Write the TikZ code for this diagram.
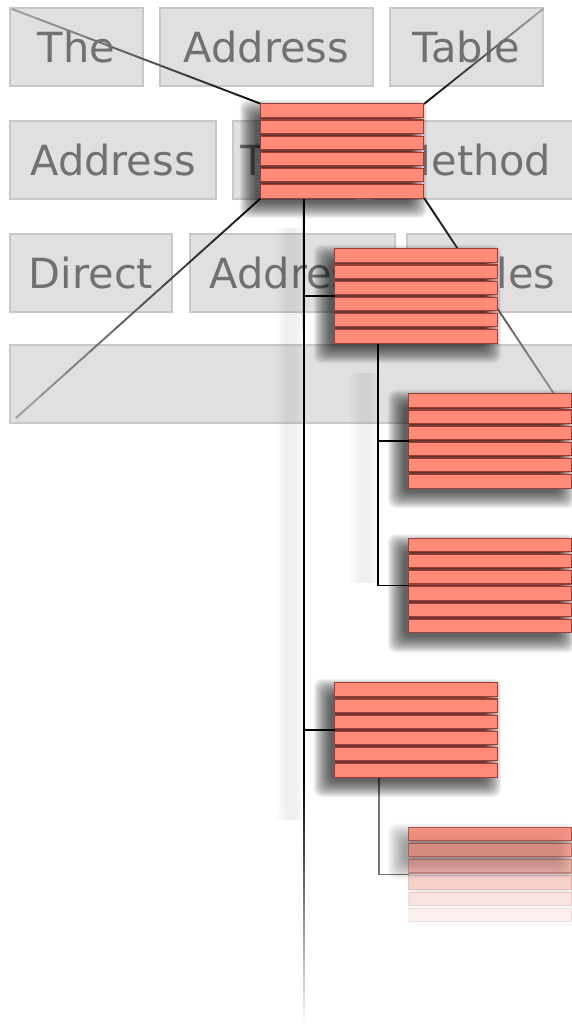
\documentclass[tikz,border=0pt]{standalone}
\usepackage{fontspec}
\setmainfont{DejaVu Sans}
\usetikzlibrary{calc}

\definecolor{salmon}{HTML}{FF8A78}
\definecolor{rim}{HTML}{983E36}
\definecolor{gap}{HTML}{6E3430}
\definecolor{panel}{HTML}{E0E0E0}
\definecolor{panelrim}{HTML}{C8C8C8}
\definecolor{paneltext}{HTML}{717171}

\tikzset{
  word/.style={draw=panelrim, line width=2pt, fill=panel, text=paneltext,
    inner sep=0pt, minimum height=78pt, text height=31pt, text depth=0pt,
    font=\fontsize{41.5}{48}\selectfont},
  redbox/.style={minimum width=163pt, minimum height=94pt, inner sep=0pt},
  stripe/.style={fill=salmon, draw=rim, line width=1.1pt},
  link/.style={line width=1.7pt, black},
}

\begin{document}
\begin{tikzpicture}[x=1pt, y=-1pt]
\useasboundingbox (0,0) rectangle (572,1028);
\clip (0,0) rectangle (572,1028);
\fill[white] (0,0) rectangle (572,1028);

% title panel
\node[word, minimum width=133pt] (the) at (76.5,47) {The};
\node[word, minimum width=213pt] (addressA) at (266.5,47) {Address};
\node[word, minimum width=153pt] (tableA) at (466.5,47) {Table};
\node[word, minimum width=206pt] (addressB) at (113,160) {Address};
\node[word, minimum width=122pt] (tableB) at (294,160) {Table};
\node[word, minimum width=203pt] (method) at (473.5,160) {Method};
\node[word, minimum width=162pt] (direct) at (91,272.5) {Direct};
\node[word, minimum width=205pt] (addressC) at (292.5,272.5) {Address};
\node[word, minimum width=168pt] (tables) at (491,272.5) {Tables};
\node[word, minimum width=565pt] (blank) at (292.5,384) {};

% table places
\node[redbox] (top) at (342.5,151) {};
\node[redbox] (mid) at (416.5,296) {};
\node[redbox] (leafa) at (490.5,441) {};
\node[redbox] (leafb) at (490.5,585.5) {};
\node[redbox] (low) at (416.5,730) {};
\node[redbox] (leafc) at (490.5,874.5) {};

% zoom lines
\coordinate (cTL) at (12,9);
\coordinate (cTR) at (543,9);
\coordinate (cBL) at (16,418);
\coordinate (cBR) at (570,418);
\foreach \s/\e in {top.north west/cTL, top.north east/cTR, top.south west/cBL, top.south east/cBR}{
  \foreach \i in {0,...,9}{
    \pgfmathtruncatemacro\lev{92-\i*6}
    \draw[line width=1.9pt, line cap=round, draw=black!\lev]
      ($(\s)!\i/10!(\e)$) -- ($(\s)!\i/10+0.1!(\e)$);
  }
}

% tree
\coordinate (trunk) at ($(top.south west)+(43,0)$);
\coordinate (fadeA) at (304,780);
\coordinate (fadeB) at (304,1027);
\coordinate (branch) at ($(mid.south west)+(43,0)$);
\coordinate (twig) at ($(low.south west)+(44,0)$);

\foreach \w in {28,20,12}{
  \draw[line width=\w pt, black, opacity=0.018] ($(trunk)+(-13,30)$) -- ($(fadeA)+(-13,40)$);
  \draw[line width=\w pt, black, opacity=0.018] ($(branch)+(-13,30)$) -- ($(branch)+(-13,240)$);
}

\draw[link] (trunk) |- (mid.west);
\draw[link] (trunk) |- (low.west);
\draw[link] (trunk) -- (fadeA);
\shade[top color=black, bottom color=white] ($(fadeA)+(-0.85,0)$) rectangle ($(fadeB)+(0.85,0)$);
\draw[link] (branch) |- (leafa.west);
\draw[link] (branch) |- (leafb.west);
\draw[link, black!55] (twig) |- (leafc.west);

% shadows
\foreach \b in {top,mid,leafa,leafb,low}
  \foreach \e in {12,...,-4}
    \fill[black, opacity=0.05, rounded corners=8pt]
      ($(\b.north west)+(-9-\e,8-\e)$) rectangle ($(\b.south east)+(-9+\e,8+\e)$);
\foreach \e in {12,...,-4}
  \fill[black, opacity=0.022, rounded corners=8pt]
    ($(leafc.north west)+(-9-\e,8-\e)$) rectangle ($(leafc.north east)+(-9+\e,40+\e)$);

% tables
\foreach \b in {top,mid,leafa,leafb,low}{
  \fill[gap] (\b.north west) rectangle ($(\b.south east)+(-14,0)$);
  \shade[left color=gap, right color=gap!25!white] ($(\b.north east)+(-14,0)$) rectangle (\b.south east);
  \foreach \k in {0,...,5}
    \draw[stripe] ($(\b.north west)+(0,\k*16.2)$) rectangle ++(163,13.3);
}
\foreach \k/\o in {0/0.78,1/0.6,2/0.42,3/0.27,4/0.16,5/0.09}{
  \fill[gap, opacity=\o*0.3] ($(leafc.north west)+(0,\k*16.2)$) rectangle ++(163,16.2);
  \draw[stripe, opacity=\o] ($(leafc.north west)+(0,\k*16.2)$) rectangle ++(163,13.3);
}
\end{tikzpicture}
\end{document}
